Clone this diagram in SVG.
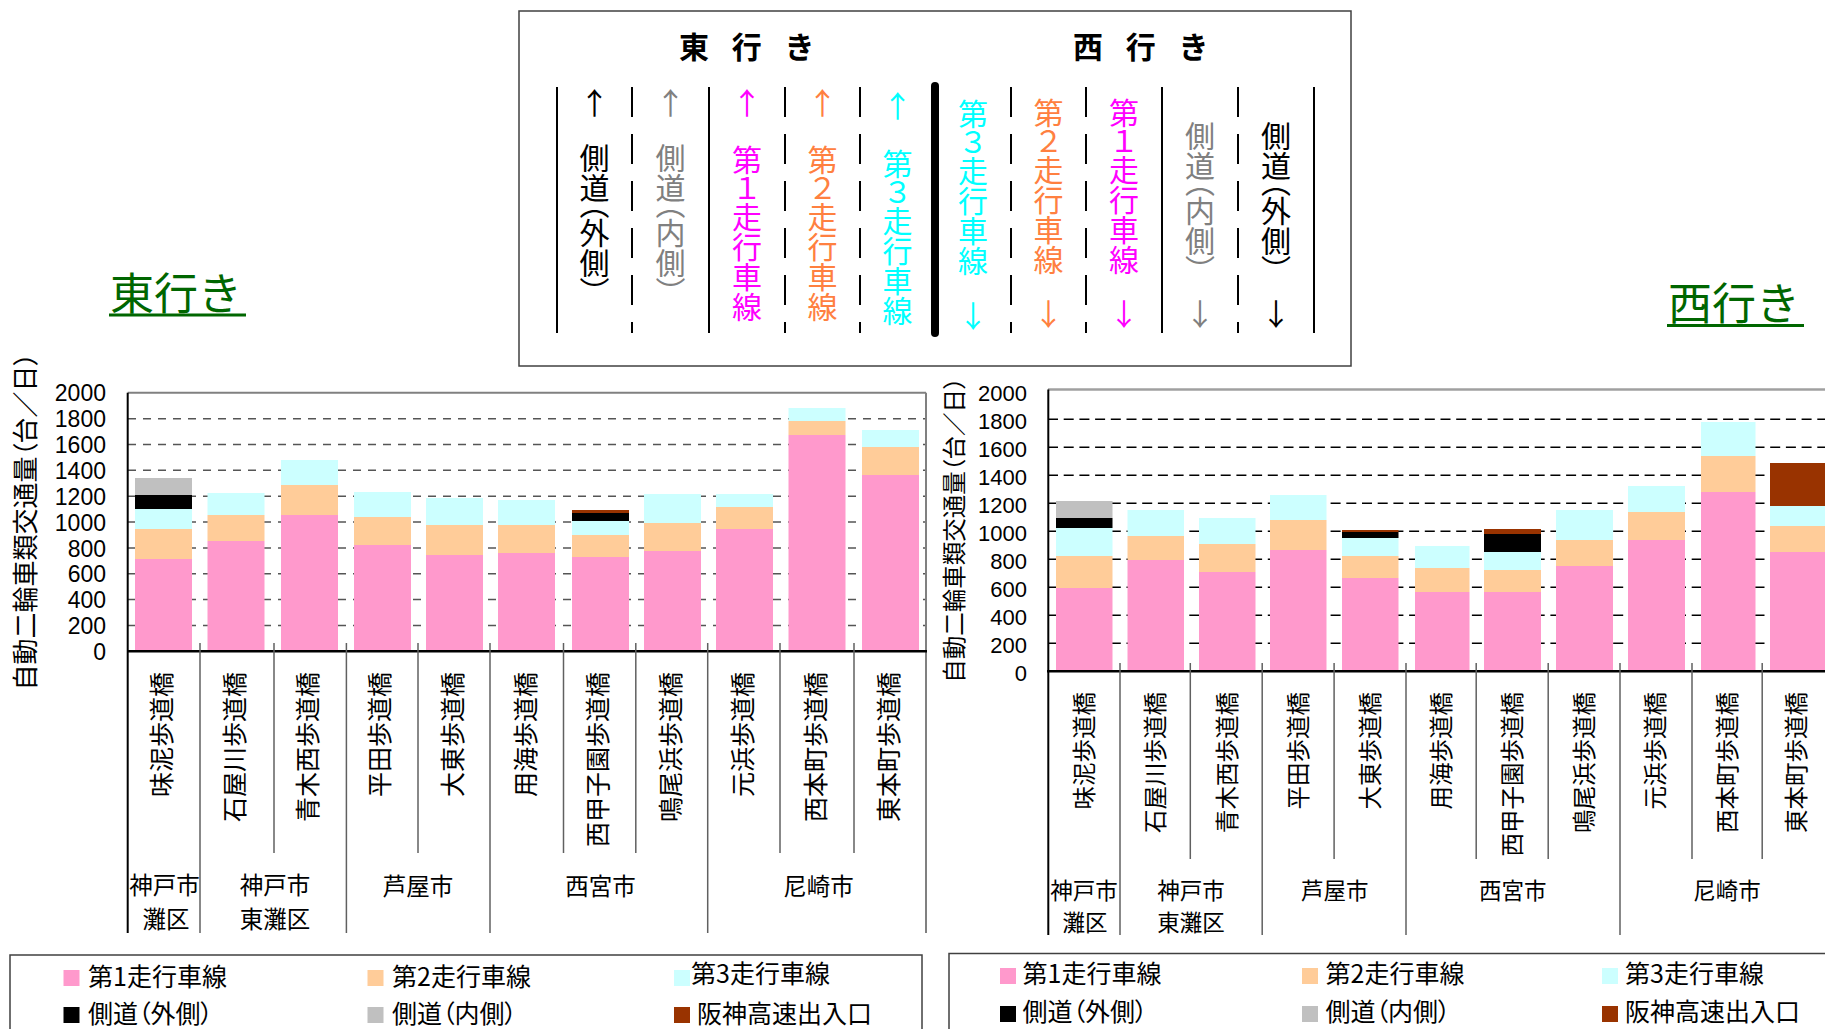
<svg xmlns="http://www.w3.org/2000/svg" width="1825" height="1029" viewBox="0 0 1825 1029">
<style>
.jp{font-family:"Noto Sans CJK JP","Noto Sans CJK SC",sans-serif}
.num{font-family:"Liberation Sans",Arial,sans-serif}
.vt{writing-mode:vertical-rl;font-family:"Noto Sans CJK JP","Noto Sans CJK SC",sans-serif;font-size:30px;font-feature-settings:"vpal"}
.arr{font-family:"Noto Sans CJK JP","Noto Sans CJK SC",sans-serif;font-size:30px;text-anchor:middle}
.palt{font-feature-settings:"palt"}
.solid{stroke:#000;stroke-width:2}
.dash{stroke:#000;stroke-width:2;stroke-dasharray:30 17}
.gl{stroke:#555;stroke-width:1.5;stroke-dasharray:8 7}
.gr{stroke:#000;stroke-width:1.5;stroke-dasharray:10 5.7}
.sep{stroke:#606060;stroke-width:1.5}
.p{fill:#FF99CC}.o{fill:#FFCC99}.c{fill:#CCFFFF}.k{fill:#000}.g{fill:#C0C0C0}.b{fill:#993300}
.ylab{font-family:"Liberation Sans",Arial,sans-serif;text-anchor:end}
.cat{font-family:"Noto Sans CJK JP","Noto Sans CJK SC",sans-serif;text-anchor:end}
.grp{font-family:"Noto Sans CJK JP","Noto Sans CJK SC",sans-serif;text-anchor:middle}
.leg{font-family:"Noto Sans CJK JP","Noto Sans CJK SC",sans-serif;font-size:25px;font-feature-settings:"palt"}
</style>
<rect width="1825" height="1029" fill="#fff"/>

<!-- Top lane legend box -->
<g id="lane-box">
  <rect x="519" y="11" width="832" height="355" fill="none" stroke="#404040" stroke-width="1.5"/>
  <text x="679" y="58" class="jp" font-size="30" font-weight="bold" letter-spacing="8" xml:space="preserve">東 行 き</text>
  <text x="1073" y="58" class="jp" font-size="30" font-weight="bold" letter-spacing="8" xml:space="preserve">西 行 き</text>
  <line class="solid" x1="557" y1="87" x2="557" y2="333"/>
  <line class="dash" x1="632" y1="87" x2="632" y2="333"/>
  <line class="solid" x1="709" y1="87" x2="709" y2="333"/>
  <line class="dash" x1="785" y1="87" x2="785" y2="333"/>
  <line class="dash" x1="860" y1="87" x2="860" y2="333"/>
  <line x1="935" y1="86" x2="935" y2="333" stroke="#000" stroke-width="8" stroke-linecap="round"/>
  <line class="dash" x1="1011" y1="87" x2="1011" y2="333"/>
  <line class="dash" x1="1086" y1="87" x2="1086" y2="333"/>
  <line class="solid" x1="1162" y1="87" x2="1162" y2="333"/>
  <line class="dash" x1="1238" y1="87" x2="1238" y2="333"/>
  <line class="solid" x1="1314" y1="87" x2="1314" y2="333"/>

  <text class="arr" x="594.5" y="114" fill="#000">↑</text>
  <text class="vt" x="594.5" y="218" text-anchor="middle" fill="#000">側道（外側）</text>
  <text class="arr" x="670.5" y="114" fill="#808080">↑</text>
  <text class="vt" x="670.5" y="218" text-anchor="middle" fill="#808080">側道（内側）</text>
  <text class="arr" x="747" y="114" fill="#FF00FF">↑</text>
  <text class="vt" x="747" y="233" text-anchor="middle" fill="#FF00FF">第１走行車線</text>
  <text class="arr" x="822.5" y="114" fill="#FF8040">↑</text>
  <text class="vt" x="822.5" y="233" text-anchor="middle" fill="#FF8040">第２走行車線</text>
  <text class="arr" x="897.5" y="117" fill="#00FFFF">↑</text>
  <text class="vt" x="897.5" y="237" text-anchor="middle" fill="#00FFFF">第３走行車線</text>

  <text class="vt" x="973" y="187" text-anchor="middle" fill="#00FFFF">第３走行車線</text>
  <text class="arr" x="973" y="327" fill="#00FFFF">↓</text>
  <text class="vt" x="1048.5" y="186" text-anchor="middle" fill="#FF8040">第２走行車線</text>
  <text class="arr" x="1048.5" y="325" fill="#FF8040">↓</text>
  <text class="vt" x="1124" y="186" text-anchor="middle" fill="#FF00FF">第１走行車線</text>
  <text class="arr" x="1124" y="325" fill="#FF00FF">↓</text>
  <text class="vt" x="1200" y="196" text-anchor="middle" fill="#808080">側道（内側）</text>
  <text class="arr" x="1200" y="325" fill="#808080">↓</text>
  <text class="vt" x="1276" y="196" text-anchor="middle" fill="#000">側道（外側）</text>
  <text class="arr" x="1276" y="325" fill="#000">↓</text>
</g>

<!-- Headings -->
<g id="title-east">
  <text x="110" y="310" class="jp" font-size="44" fill="#006600">東行き</text>
  <rect x="109" y="313.5" width="137" height="3" fill="#006600"/>
</g>
<g id="title-west">
  <text x="1668" y="320" class="jp" font-size="44" fill="#006600">西行き</text>
  <rect x="1667" y="324" width="137" height="3" fill="#006600"/>
</g>

<!-- Left chart (east-bound) -->
<g id="chart-east">
  <g id="east-grid">
    <line class="gl" x1="128" y1="625.45" x2="926" y2="625.45"/>
    <line class="gl" x1="128" y1="599.6" x2="926" y2="599.6"/>
    <line class="gl" x1="128" y1="573.75" x2="926" y2="573.75"/>
    <line class="gl" x1="128" y1="547.9" x2="926" y2="547.9"/>
    <line class="gl" x1="128" y1="522.05" x2="926" y2="522.05"/>
    <line class="gl" x1="128" y1="496.2" x2="926" y2="496.2"/>
    <line class="gl" x1="128" y1="470.35" x2="926" y2="470.35"/>
    <line class="gl" x1="128" y1="444.5" x2="926" y2="444.5"/>
    <line class="gl" x1="128" y1="418.65" x2="926" y2="418.65"/>
  </g>
  <g id="east-bars">
    <rect class="p" x="135" y="559" width="57" height="92"/><rect class="o" x="135" y="529" width="57" height="30"/><rect class="c" x="135" y="509" width="57" height="20"/><rect class="k" x="135" y="495" width="57" height="14"/><rect class="g" x="135" y="478" width="57" height="17"/>
    <rect class="p" x="207.5" y="541" width="57" height="110"/><rect class="o" x="207.5" y="515" width="57" height="26"/><rect class="c" x="207.5" y="493" width="57" height="22"/>
    <rect class="p" x="281" y="515" width="57" height="136"/><rect class="o" x="281" y="485" width="57" height="30"/><rect class="c" x="281" y="460" width="57" height="25"/>
    <rect class="p" x="354" y="545" width="57" height="106"/><rect class="o" x="354" y="517" width="57" height="28"/><rect class="c" x="354" y="492" width="57" height="25"/>
    <rect class="p" x="426" y="555" width="57" height="96"/><rect class="o" x="426" y="525" width="57" height="30"/><rect class="c" x="426" y="498" width="57" height="27"/>
    <rect class="p" x="498" y="553" width="57" height="98"/><rect class="o" x="498" y="525" width="57" height="28"/><rect class="c" x="498" y="500" width="57" height="25"/>
    <rect class="p" x="572" y="557" width="57" height="94"/><rect class="o" x="572" y="535" width="57" height="22"/><rect class="c" x="572" y="521" width="57" height="14"/><rect class="k" x="572" y="513" width="57" height="8"/><rect class="b" x="572" y="510" width="57" height="3"/>
    <rect class="p" x="644" y="551" width="57" height="100"/><rect class="o" x="644" y="523" width="57" height="28"/><rect class="c" x="644" y="494" width="57" height="29"/>
    <rect class="p" x="716" y="529" width="57" height="122"/><rect class="o" x="716" y="507" width="57" height="22"/><rect class="c" x="716" y="494" width="57" height="13"/>
    <rect class="p" x="788.5" y="435" width="57" height="216"/><rect class="o" x="788.5" y="421" width="57" height="14"/><rect class="c" x="788.5" y="408" width="57" height="13"/>
    <rect class="p" x="862" y="475" width="57" height="176"/><rect class="o" x="862" y="447" width="57" height="28"/><rect class="c" x="862" y="430" width="57" height="17"/>
  </g>
  <g id="east-frame">
    <line x1="127.7" y1="392.7" x2="926" y2="392.7" stroke="#808080" stroke-width="2"/>
    <line x1="926" y1="392.7" x2="926" y2="933" stroke="#808080" stroke-width="2"/>
    <line x1="127.7" y1="392.7" x2="127.7" y2="933" stroke="#000" stroke-width="2"/>
    <line x1="127" y1="651.3" x2="927" y2="651.3" stroke="#000" stroke-width="2.5"/>
  </g>
  <g id="east-separators">
    <line class="sep" x1="200" y1="643" x2="200" y2="933"/>
    <line class="sep" x1="274" y1="643" x2="274" y2="853"/>
    <line class="sep" x1="346.4" y1="643" x2="346.4" y2="933"/>
    <line class="sep" x1="418" y1="643" x2="418" y2="853"/>
    <line class="sep" x1="490" y1="643" x2="490" y2="933"/>
    <line class="sep" x1="563.5" y1="643" x2="563.5" y2="853"/>
    <line class="sep" x1="635.8" y1="643" x2="635.8" y2="853"/>
    <line class="sep" x1="707.7" y1="643" x2="707.7" y2="933"/>
    <line class="sep" x1="780" y1="643" x2="780" y2="853"/>
    <line class="sep" x1="854" y1="643" x2="854" y2="853"/>
  </g>
  <g id="east-yaxis" font-size="23">
    <text class="ylab" x="106" y="660">0</text>
    <text class="ylab" x="106" y="634">200</text>
    <text class="ylab" x="106" y="608.2">400</text>
    <text class="ylab" x="106" y="582.3">600</text>
    <text class="ylab" x="106" y="556.5">800</text>
    <text class="ylab" x="106" y="530.6">1000</text>
    <text class="ylab" x="106" y="504.8">1200</text>
    <text class="ylab" x="106" y="478.9">1400</text>
    <text class="ylab" x="106" y="453.1">1600</text>
    <text class="ylab" x="106" y="427.2">1800</text>
    <text class="ylab" x="106" y="401.4">2000</text>
    <text class="jp palt" font-size="26" text-anchor="middle" transform="translate(35,521.5) rotate(-90)">自動二輪車類交通量（台／日）</text>
  </g>
  <g id="east-categories" font-size="25">
    <text class="cat" transform="translate(170.9,672) rotate(-90)">味泥歩道橋</text>
    <text class="cat" transform="translate(243.8,672) rotate(-90)">石屋川歩道橋</text>
    <text class="cat" transform="translate(317,672) rotate(-90)">青木西歩道橋</text>
    <text class="cat" transform="translate(389.1,672) rotate(-90)">平田歩道橋</text>
    <text class="cat" transform="translate(461.5,672) rotate(-90)">大東歩道橋</text>
    <text class="cat" transform="translate(534.5,672) rotate(-90)">用海歩道橋</text>
    <text class="cat" transform="translate(606.8,672) rotate(-90)">西甲子園歩道橋</text>
    <text class="cat" transform="translate(679.7,672) rotate(-90)">鳴尾浜歩道橋</text>
    <text class="cat" transform="translate(751.5,672) rotate(-90)">元浜歩道橋</text>
    <text class="cat" transform="translate(825,672) rotate(-90)">西本町歩道橋</text>
    <text class="cat" transform="translate(898,672) rotate(-90)">東本町歩道橋</text>
  </g>
  <g id="east-groups" font-size="23.5">
    <text class="grp"><tspan x="164.5" y="894">神戸市</tspan><tspan x="166" y="928.3">灘区</tspan></text>
    <text class="grp"><tspan x="275" y="894">神戸市</tspan><tspan x="275" y="928.3">東灘区</tspan></text>
    <text class="grp" x="418" y="895">芦屋市</text>
    <text class="grp" x="600.5" y="895">西宮市</text>
    <text class="grp" x="818.5" y="895">尼崎市</text>
  </g>
</g>

<!-- Right chart (west-bound) -->
<g id="chart-west">
  <g id="west-grid">
    <line class="gr" x1="1048" y1="643.3" x2="1825" y2="643.3"/>
    <line class="gr" x1="1048" y1="615.3" x2="1825" y2="615.3"/>
    <line class="gr" x1="1048" y1="587.3" x2="1825" y2="587.3"/>
    <line class="gr" x1="1048" y1="559.3" x2="1825" y2="559.3"/>
    <line class="gr" x1="1048" y1="531.3" x2="1825" y2="531.3"/>
    <line class="gr" x1="1048" y1="503.3" x2="1825" y2="503.3"/>
    <line class="gr" x1="1048" y1="475.3" x2="1825" y2="475.3"/>
    <line class="gr" x1="1048" y1="447.3" x2="1825" y2="447.3"/>
    <line class="gr" x1="1048" y1="419.3" x2="1825" y2="419.3"/>
  </g>
  <g id="west-bars">
    <rect class="p" x="1056" y="588" width="56.5" height="83.3"/><rect class="o" x="1056" y="556" width="56.5" height="32"/><rect class="c" x="1056" y="528" width="56.5" height="28"/><rect class="k" x="1056" y="518" width="56.5" height="10"/><rect class="g" x="1056" y="501" width="56.5" height="17"/>
    <rect class="p" x="1127.5" y="560" width="56.5" height="111.3"/><rect class="o" x="1127.5" y="536" width="56.5" height="24"/><rect class="c" x="1127.5" y="510" width="56.5" height="26"/>
    <rect class="p" x="1199" y="572" width="56.5" height="99.3"/><rect class="o" x="1199" y="544" width="56.5" height="28"/><rect class="c" x="1199" y="518" width="56.5" height="26"/>
    <rect class="p" x="1270" y="550" width="56.5" height="121.3"/><rect class="o" x="1270" y="520" width="56.5" height="30"/><rect class="c" x="1270" y="495" width="56.5" height="25"/>
    <rect class="p" x="1342" y="578" width="56.5" height="93.3"/><rect class="o" x="1342" y="556" width="56.5" height="22"/><rect class="c" x="1342" y="538" width="56.5" height="18"/><rect class="k" x="1342" y="532" width="56.5" height="6"/><rect class="b" x="1342" y="530" width="56.5" height="2"/>
    <rect class="p" x="1415" y="592" width="54.5" height="79.3"/><rect class="o" x="1415" y="568" width="54.5" height="24"/><rect class="c" x="1415" y="546" width="54.5" height="22"/>
    <rect class="p" x="1484" y="592" width="57" height="79.3"/><rect class="o" x="1484" y="570" width="57" height="22"/><rect class="c" x="1484" y="552" width="57" height="18"/><rect class="k" x="1484" y="534" width="57" height="18"/><rect class="b" x="1484" y="529" width="57" height="5"/>
    <rect class="p" x="1556" y="566" width="57" height="105.3"/><rect class="o" x="1556" y="540" width="57" height="26"/><rect class="c" x="1556" y="510" width="57" height="30"/>
    <rect class="p" x="1628" y="540" width="57" height="131.3"/><rect class="o" x="1628" y="512" width="57" height="28"/><rect class="c" x="1628" y="486" width="57" height="26"/>
    <rect class="p" x="1701" y="492" width="54.5" height="179.3"/><rect class="o" x="1701" y="456" width="54.5" height="36"/><rect class="c" x="1701" y="422" width="54.5" height="34"/>
    <rect class="p" x="1770" y="552" width="56" height="119.3"/><rect class="o" x="1770" y="526" width="56" height="26"/><rect class="c" x="1770" y="506" width="56" height="20"/><rect class="b" x="1770" y="463" width="56" height="43"/>
  </g>
  <g id="west-frame">
    <line x1="1048" y1="389.5" x2="1825" y2="389.5" stroke="#a0a0a0" stroke-width="2.5"/>
    <line x1="1048.3" y1="389.5" x2="1048.3" y2="935" stroke="#000" stroke-width="2"/>
    <line x1="1047" y1="671.3" x2="1825" y2="671.3" stroke="#000" stroke-width="2.5"/>
  </g>
  <g id="west-separators">
    <line class="sep" x1="1120" y1="663" x2="1120" y2="935"/>
    <line class="sep" x1="1190.3" y1="663" x2="1190.3" y2="859"/>
    <line class="sep" x1="1262.2" y1="663" x2="1262.2" y2="935"/>
    <line class="sep" x1="1334.1" y1="663" x2="1334.1" y2="859"/>
    <line class="sep" x1="1406" y1="663" x2="1406" y2="935"/>
    <line class="sep" x1="1476.2" y1="663" x2="1476.2" y2="859"/>
    <line class="sep" x1="1548.2" y1="663" x2="1548.2" y2="859"/>
    <line class="sep" x1="1620" y1="663" x2="1620" y2="935"/>
    <line class="sep" x1="1692" y1="663" x2="1692" y2="859"/>
    <line class="sep" x1="1762.2" y1="663" x2="1762.2" y2="859"/>
  </g>
  <g id="west-yaxis" font-size="22">
    <text class="ylab" x="1027" y="681">0</text>
    <text class="ylab" x="1027" y="653">200</text>
    <text class="ylab" x="1027" y="625">400</text>
    <text class="ylab" x="1027" y="597">600</text>
    <text class="ylab" x="1027" y="569">800</text>
    <text class="ylab" x="1027" y="541">1000</text>
    <text class="ylab" x="1027" y="513">1200</text>
    <text class="ylab" x="1027" y="485">1400</text>
    <text class="ylab" x="1027" y="457">1600</text>
    <text class="ylab" x="1027" y="429">1800</text>
    <text class="ylab" x="1027" y="401">2000</text>
    <text class="jp palt" font-size="23.5" text-anchor="middle" transform="translate(963,530) rotate(-90)">自動二輪車類交通量（台／日）</text>
  </g>
  <g id="west-categories" font-size="23.5">
    <text class="cat" transform="translate(1093,692) rotate(-90)">味泥歩道橋</text>
    <text class="cat" transform="translate(1164.4,692) rotate(-90)">石屋川歩道橋</text>
    <text class="cat" transform="translate(1235.8,692) rotate(-90)">青木西歩道橋</text>
    <text class="cat" transform="translate(1307.2,692) rotate(-90)">平田歩道橋</text>
    <text class="cat" transform="translate(1378.6,692) rotate(-90)">大東歩道橋</text>
    <text class="cat" transform="translate(1450,692) rotate(-90)">用海歩道橋</text>
    <text class="cat" transform="translate(1521.4,692) rotate(-90)">西甲子園歩道橋</text>
    <text class="cat" transform="translate(1592.8,692) rotate(-90)">鳴尾浜歩道橋</text>
    <text class="cat" transform="translate(1664.2,692) rotate(-90)">元浜歩道橋</text>
    <text class="cat" transform="translate(1735.6,692) rotate(-90)">西本町歩道橋</text>
    <text class="cat" transform="translate(1805,692) rotate(-90)">東本町歩道橋</text>
  </g>
  <g id="west-groups" font-size="22.5">
    <text class="grp"><tspan x="1084" y="898.5">神戸市</tspan><tspan x="1085" y="931.3">灘区</tspan></text>
    <text class="grp"><tspan x="1191" y="898.5">神戸市</tspan><tspan x="1191" y="931.3">東灘区</tspan></text>
    <text class="grp" x="1334.7" y="899">芦屋市</text>
    <text class="grp" x="1512.8" y="899">西宮市</text>
    <text class="grp" x="1727" y="899">尼崎市</text>
  </g>
</g>

<!-- Legends -->
<g id="legend-east">
  <rect x="10" y="955" width="912" height="90" fill="none" stroke="#404040" stroke-width="1.5"/>
  <rect class="p" x="63.5" y="970" width="16" height="16"/><text class="leg" x="88" y="986">第1走行車線</text>
  <rect class="o" x="367.5" y="970" width="16" height="16"/><text class="leg" x="392" y="986">第2走行車線</text>
  <rect class="c" x="674" y="970" width="16" height="16"/><text class="leg" x="691" y="983">第3走行車線</text>
  <rect class="k" x="63.5" y="1007" width="16" height="16"/><text class="leg" x="88" y="1023">側道（外側）</text>
  <rect class="g" x="367.5" y="1007" width="16" height="16"/><text class="leg" x="392" y="1023">側道（内側）</text>
  <rect class="b" x="674" y="1007" width="16" height="16"/><text class="leg" x="697" y="1023">阪神高速出入口</text>
</g>
<g id="legend-west">
  <rect x="949" y="953.5" width="900" height="90" fill="none" stroke="#404040" stroke-width="1.5"/>
  <rect class="p" x="1000" y="968" width="16" height="16"/><text class="leg" x="1022.5" y="983">第1走行車線</text>
  <rect class="o" x="1302" y="968" width="16" height="16"/><text class="leg" x="1325.5" y="983">第2走行車線</text>
  <rect class="c" x="1602" y="968" width="16" height="16"/><text class="leg" x="1625" y="983">第3走行車線</text>
  <rect class="k" x="1000" y="1006" width="16" height="16"/><text class="leg" x="1022.5" y="1021">側道（外側）</text>
  <rect class="g" x="1302" y="1006" width="16" height="16"/><text class="leg" x="1325.5" y="1021">側道（内側）</text>
  <rect class="b" x="1602" y="1006" width="16" height="16"/><text class="leg" x="1625" y="1021">阪神高速出入口</text>
</g>
</svg>
